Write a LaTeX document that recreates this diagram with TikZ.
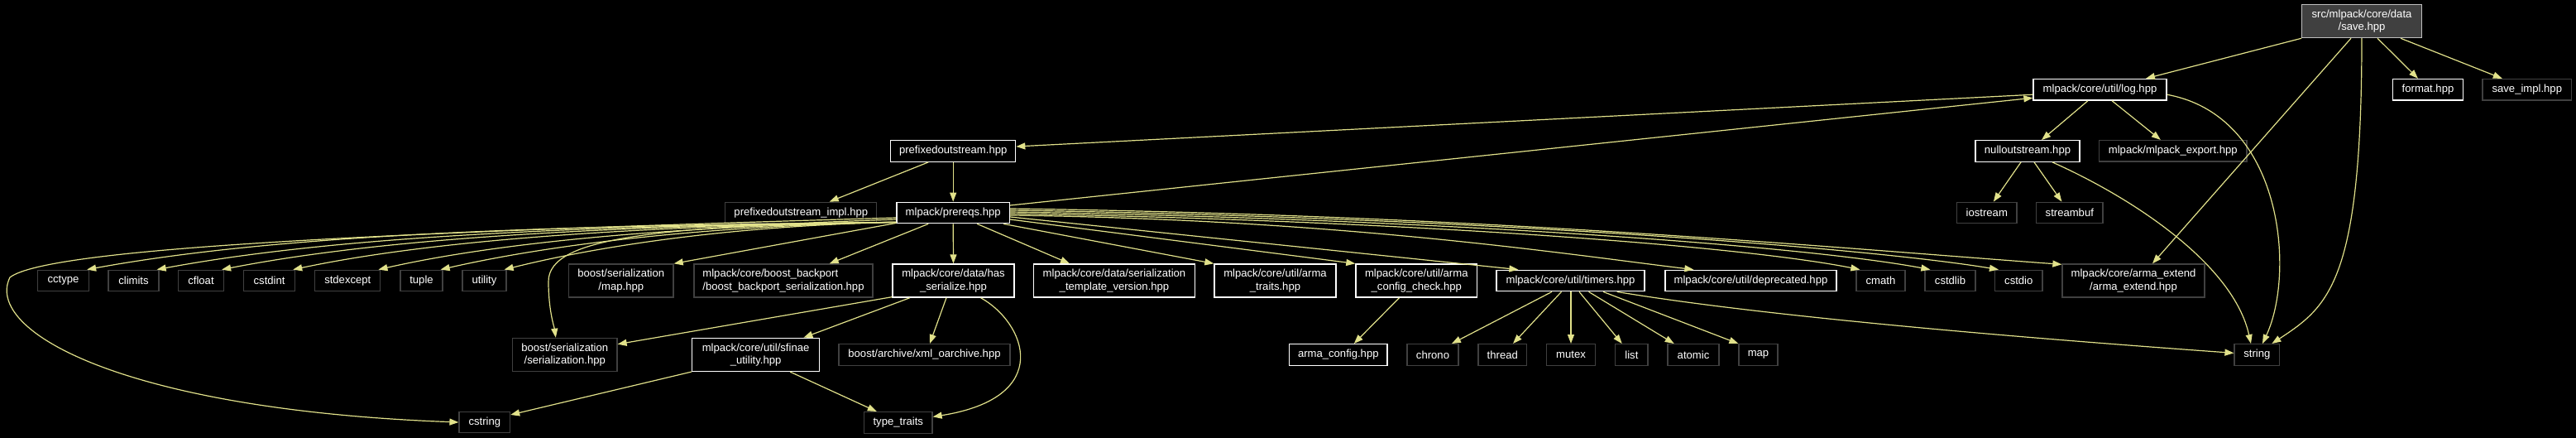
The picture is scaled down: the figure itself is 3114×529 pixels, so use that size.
\documentclass[tikz,border=0pt]{standalone}
\usepackage{fontspec}
\setmainfont{Liberation Sans}
\usetikzlibrary{arrows.meta,calc}
\definecolor{edgecol}{RGB}{225,225,138}
\definecolor{extborder}{RGB}{64,64,64}
\definecolor{rootfill}{RGB}{64,64,64}
\definecolor{rootborder}{RGB}{191,191,191}
\begin{document}
\begin{tikzpicture}[x=1pt,y=-1pt,
  box/.style={font=\fontsize{13.1}{15.3}\selectfont, text=white, inner sep=0pt, align=center, line width=1.3pt},
  doc/.style={box, draw=white, fill=black},
  ext/.style={box, draw=extborder, fill=black},
  root/.style={box, draw=rootborder, fill=rootfill},
  one/.style={minimum height=25.5pt},
  two/.style={minimum height=40pt},
  edge/.style={draw=edgecol, line width=1.2pt, -{Triangle[length=11pt,width=8pt]}}]
\fill[black] (0,0) rectangle (3114,529);
\useasboundingbox (0,0) rectangle (3114,529);

% top
\node[root, two, minimum width=144.5pt] (save) at (2855,25.6) {src/mlpack/core/data\\/save.hpp};
\node[doc, one, minimum width=161pt] (log) at (2538.5,108.25) {mlpack/core/util/log.hpp};
\node[doc, one, minimum width=84.6pt] (format) at (2935,108.25) {format.hpp};
\node[ext, one, minimum width=107.5pt] (saveimpl) at (3054.8,108.25) {save\_impl.hpp};
\node[ext, one, minimum width=178.4pt] (export) at (2626.8,182.3) {mlpack/mlpack\_export.hpp};
\node[doc, one, minimum width=126pt] (nullout) at (2451,182.5) {nulloutstream.hpp};
\node[ext, one, minimum width=72.4pt] (iostream) at (2401.8,257) {iostream};
\node[ext, one, minimum width=80.4pt] (streambuf) at (2501.8,257) {streambuf};
\node[doc, one, minimum width=151pt] (prefixed) at (1152.2,182.5) {prefixedoutstream.hpp};
\node[ext, one, minimum width=183pt] (prefimpl) at (968.3,257) {prefixedoutstream\_impl.hpp};
\node[doc, one, minimum width=136.5pt] (prereqs) at (1152.2,257) {mlpack/prereqs.hpp};

% row 339
\node[ext, one, minimum width=62pt] (cctype) at (76.5,339) {cctype};
\node[ext, one, minimum width=61pt] (climits) at (161.5,339) {climits};
\node[ext, one, minimum width=55pt] (cfloat) at (243,339) {cfloat};
\node[ext, one, minimum width=62pt] (cstdint) at (325.6,339) {cstdint};
\node[ext, one, minimum width=79pt] (stdexcept) at (420.3,339) {stdexcept};
\node[ext, one, minimum width=51pt] (tuple) at (509.5,339) {tuple};
\node[ext, one, minimum width=53pt] (utility) at (585.5,339) {utility};
\node[ext, two, minimum width=126.5pt] (maphpp) at (750.8,339) {boost/serialization\\/map.hpp};
\node[ext, two, minimum width=216pt, align=left] (backport) at (947,339) {mlpack/core/boost\_backport\\/boost\_backport\_serialization.hpp};
\node[doc, two, minimum width=147pt] (hasser) at (1152.5,339) {mlpack/core/data/has\\\_serialize.hpp};
\node[doc, two, minimum width=195pt] (stv) at (1347,339) {mlpack/core/data/serialization\\\_template\_version.hpp};
\node[doc, two, minimum width=147pt] (armatraits) at (1541.5,339) {mlpack/core/util/arma\\\_traits.hpp};
\node[doc, two, minimum width=146.7pt] (armacc) at (1712.3,339) {mlpack/core/util/arma\\\_config\_check.hpp};
\node[doc, one, minimum width=179pt] (timers) at (1898.5,339) {mlpack/core/util/timers.hpp};
\node[doc, one, minimum width=207pt] (deprecated) at (2116.5,339) {mlpack/core/util/deprecated.hpp};
\node[ext, one, minimum width=59pt] (cmath) at (2273.5,339) {cmath};
\node[ext, one, minimum width=61pt] (cstdlib) at (2357.5,339) {cstdlib};
\node[ext, one, minimum width=57.4pt] (cstdio) at (2440.3,339) {cstdio};
\node[ext, two, minimum width=172pt] (armaext) at (2579,339) {mlpack/core/arma\_extend\\/arma\_extend.hpp};

% row 428
\node[ext, two, minimum width=126.4pt] (serhpp) at (682.8,428.4) {boost/serialization\\/serialization.hpp};
\node[doc, two, minimum width=154pt] (sfinae) at (913.6,428.4) {mlpack/core/util/sfinae\\\_utility.hpp};
\node[ext, one, minimum width=207pt] (xml) at (1117.5,428.4) {boost/archive/xml\_oarchive.hpp};
\node[doc, one, minimum width=118.5pt] (armaconfig) at (1617.8,428.4) {arma\_config.hpp};
\node[ext, one, minimum width=62pt] (chrono) at (1732,428.4) {chrono};
\node[ext, one, minimum width=58.5pt] (thread) at (1816.3,428.4) {thread};
\node[ext, one, minimum width=59pt] (mutex) at (1899,428.4) {mutex};
\node[ext, one, minimum width=39.3pt] (list) at (1972.4,428.4) {list};
\node[ext, one, minimum width=62pt] (atomic) at (2047,428.4) {atomic};
\node[ext, one, minimum width=47pt] (mapstd) at (2125.5,428.4) {map};
\node[ext, one, minimum width=54.7pt] (string) at (2728.4,428.4) {string};

% row 510
\node[ext, one, minimum width=61.5pt] (cstring) at (585.8,510) {cstring};
\node[ext, one, minimum width=82.4pt] (typetraits) at (1085.8,510.4) {type\_traits};

% edges from save.hpp
\draw[edge] (save.south west) -- ($(log.north)+(55.5,0)$);
\draw[edge] ($(save.south)+(-13,0)$) -- ($(armaext.north)+(23,0)$);
\draw[edge] (save.south) .. controls (2855,340) and (2815,370) .. ($(string.north)+(18,0)$);
\draw[edge] ($(save.south)+(19,0)$) -- ($(format.north)+(-12,0)$);
\draw[edge] ($(save.south)+(47,0)$) -- ($(saveimpl.north)+(-30,0)$);

% edges from log.hpp
\draw[edge] ($(log.east)+(0,6)$) .. controls (2760,140) and (2775,330) .. ($(string.north)+(6.6,0)$);
\draw[edge] ($(log.south)+(14.5,0)$) -- ($(export.north)+(-15,0)$);
\draw[edge] ($(log.south)+(-14.5,0)$) -- ($(nullout.north)+(17,0)$);
\draw[edge] ($(log.west)+(0,6)$) -- ($(prefixed.east)+(0,-5.5)$);

% prefixedoutstream
\draw[edge] ($(prefixed.south)+(-30,0)$) -- ($(prefimpl.north)+(34.4,0)$);
\draw[edge] (prefixed.south) -- (prereqs.north);

% nulloutstream
\draw[edge] ($(nullout.south)+(-8,0)$) -- ($(iostream.north)+(8,0)$);
\draw[edge] ($(nullout.south)+(8,0)$) -- ($(streambuf.north)+(-9.4,0)$);
\draw[edge] ($(nullout.south)+(30,0)$) .. controls (2580,240) and (2700,320) .. ($(string.north)+(-7.4,0)$);

% prereqs
\draw[edge] ($(prereqs.east)+(0,-9)$) -- ($(log.west)+(0,10)$);
\draw[edge] ($(prereqs.south west)+(0,-2)$) .. controls +(-390,4) and +(245,-45) .. ($(cctype.north east)+(-3,0)$);
\draw[edge] ($(prereqs.south west)+(0,-2)$) .. controls +(-360,4) and +(225,-42) .. ($(climits.north east)+(-3,0)$);
\draw[edge] ($(prereqs.south west)+(0,-2)$) .. controls +(-330,4) and +(205,-40) .. ($(cfloat.north east)+(-3,0)$);
\draw[edge] ($(prereqs.south west)+(0,-2)$) .. controls +(-290,4) and +(180,-38) .. ($(cstdint.north east)+(-3,0)$);
\draw[edge] ($(prereqs.south west)+(0,-2)$) .. controls +(-250,4) and +(155,-35) .. ($(stdexcept.north east)+(-3,0)$);
\draw[edge] ($(prereqs.south west)+(0,-2)$) .. controls +(-220,4) and +(140,-32) .. ($(tuple.north east)+(-3,0)$);
\draw[edge] ($(prereqs.south west)+(0,-2)$) .. controls +(-190,4) and +(120,-30) .. ($(utility.north east)+(-3,0)$);
\draw[edge] ($(prereqs.west)+(0,6)$) .. controls (500,280) and (60,298) .. (12,335) .. controls (-20,400) and (150,495) .. (cstring.west);
\draw[edge] ($(prereqs.west)+(0,8)$) .. controls (800,275) and (663,285) .. (663,340) .. controls (663,375) and (670,395) .. ($(serhpp.north)+(-11,0)$);
\draw[edge] ($(prereqs.south west)+(0,-1)$) -- (maphpp.north east);
\draw[edge] ($(prereqs.south)+(-30,0)$) -- ($(backport.north)+(55.7,0)$);
\draw[edge] (prereqs.south) -- (hasser.north);
\draw[edge] ($(prereqs.south)+(29,0)$) -- ($(stv.north)+(-54,0)$);
\draw[edge] ($(prereqs.south east)+(-8,0)$) -- (armatraits.north west);
\draw[edge] ($(prereqs.east)+(0,8)$) -- (armacc.north west);
\draw[edge] ($(prereqs.east)+(0,5)$) -- ($(timers.north west)+(27,0)$);
\draw[edge] ($(prereqs.east)+(0,3)$) .. controls +(400,5) and +(-150,-18) .. ($(deprecated.north west)+(35,0)$);
\draw[edge] ($(prereqs.east)+(0,1)$) .. controls +(460,8) and +(-150,-30) .. ($(cmath.north west)+(5,0)$);
\draw[edge] ($(prereqs.east)+(0,-1)$) .. controls +(500,8) and +(-160,-30) .. ($(cstdlib.north west)+(7,0)$);
\draw[edge] ($(prereqs.east)+(0,-3)$) .. controls +(540,8) and +(-170,-28) .. ($(cstdio.north west)+(5,0)$);
\draw[edge] ($(prereqs.east)+(0,-5)$) .. controls +(570,8) and +(-300,-22) .. ($(armaext.north west)+(0,1)$);

% has_serialize
\draw[edge] ($(hasser.south west)+(0,-1)$) -- ($(serhpp.east)+(0,-12.7)$);
\draw[edge] ($(hasser.south)+(-52.5,0)$) -- ($(sfinae.north)+(57.8,0)$);
\draw[edge] ($(hasser.south)+(-8.5,0)$) -- ($(xml.north)+(6.5,0)$);
\draw[edge] ($(hasser.south)+(33,0)$) .. controls (1240,390) and (1275,480) .. ($(typetraits.east)+(0,-7)$);

% sfinae
\draw[edge] (sfinae.south west) -- ($(cstring.east)+(0,-9)$);
\draw[edge] ($(sfinae.south)+(41.4,0)$) -- ($(typetraits.north)+(-26,0)$);

% arma_config_check
\draw[edge] ($(armacc.south)+(-20.8,0)$) -- ($(armaconfig.north)+(19,0)$);

% timers
\draw[edge] ($(timers.south)+(-22.5,0)$) -- ($(chrono.north)+(23,0)$);
\draw[edge] ($(timers.south)+(-11,0)$) -- ($(thread.north)+(12.7,0)$);
\draw[edge] ($(timers.south)+(0.5,0)$) -- (mutex.north);
\draw[edge] ($(timers.south)+(10.5,0)$) -- ($(list.north)+(-11.7,0)$);
\draw[edge] ($(timers.south)+(22,0)$) -- ($(atomic.north)+(-23.3,0)$);
\draw[edge] ($(timers.south)+(39.5,0)$) -- (mapstd.north west);
\draw[edge] ($(timers.south east)+(-34,0)$) .. controls (2150,385) and (2500,412) .. ($(string.west)+(0,-2)$);
\end{tikzpicture}
\end{document}
